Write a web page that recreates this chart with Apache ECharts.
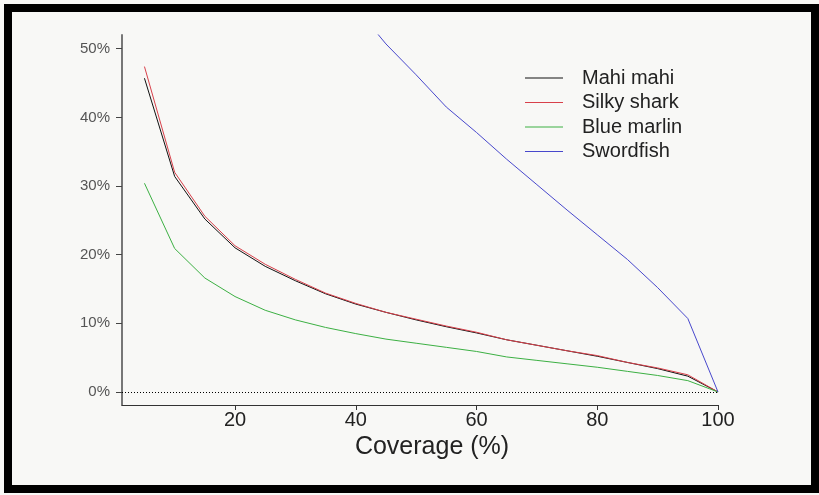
<!DOCTYPE html>
<html>
<head>
<meta charset="utf-8">
<script src="https://cdn.jsdelivr.net/npm/echarts@6/dist/echarts.min.js"></script>
<style>
html,body{margin:0;padding:0;background:#f8f8f6;}
#c{width:819px;height:495px;}
</style>
</head>
<body>
<div id="c"></div>
<script>
var coverage = [5,10,15,20,25,30,35,40,45,50,55,60,65,70,75,80,85,90,95,100];
var mahiMahi = [45.7,31.4,25.2,21.0,18.3,16.2,14.3,12.8,11.6,10.5,9.5,8.6,7.6,6.8,6.0,5.2,4.3,3.4,2.3,0];
var silkyShark = [47.4,32.0,25.6,21.3,18.6,16.4,14.4,12.9,11.6,10.6,9.6,8.7,7.6,6.8,6.0,5.3,4.3,3.5,2.5,0];
var blueMarlin = [30.4,20.9,16.6,13.9,11.9,10.5,9.4,8.5,7.7,7.1,6.5,5.9,5.1,4.6,4.1,3.6,3.0,2.4,1.65,0];
var swordCoverage = [40,45,50,55,60,65,70,75,80,85,90,95,100];
var swordfish = [56.0,50.7,46.2,41.5,37.8,33.9,30.2,26.5,22.9,19.3,15.2,10.7,0];
var xTicks = [20,40,60,80,100];
var yTicks = [0,10,20,30,40,50];
var seriesNames = ['Mahi mahi','Silky shark','Blue marlin','Swordfish'];
var seriesColors = ['#111111','#d8404a','#3cb043','#4848cc'];

function pairs(xs, ys){ return xs.map(function(x,i){ return [x, ys[i]]; }); }
var allData = [pairs(coverage, mahiMahi), pairs(coverage, silkyShark), pairs(coverage, blueMarlin), pairs(swordCoverage, swordfish)];

var chart = echarts.init(document.getElementById('c'), null, {renderer:'canvas'});
var FONT = '"Liberation Sans", Arial, sans-serif';

var series = seriesNames.map(function(n, i){
  var s = {
    name: n, type: 'line', data: allData[i], symbol: 'none', clip: true,
    lineStyle: {width: 1, color: seriesColors[i]}, itemStyle: {color: seriesColors[i]},
    silent: true, animation: false, z: 3
  };
  if (i === 0) {
    s.markLine = {
      silent: true, symbol: ['none','none'], label: {show: false},
      lineStyle: {type: [1,2], color: '#000', width: 1},
      data: [{yAxis: 0}], animation: false
    };
  }
  return s;
});

chart.setOption({
  backgroundColor: '#f8f8f6',
  animation: false,
  textStyle: {fontFamily: FONT},
  grid: {left: 122, right: 101, top: 35, bottom: 90, containLabel: false},
  legend: {
    orient: 'vertical', left: 520, top: 63,
    itemWidth: 38, itemHeight: 1, itemGap: 4.5,
    icon: 'rect',
    data: seriesNames,
    textStyle: {fontSize: 20, color: '#222', fontFamily: FONT, lineHeight: 20, padding: [0,0,0,14]},
    selectedMode: false
  },
  xAxis: {
    type: 'value', min: 1.28, max: 100,
    name: 'Coverage (%)', nameLocation: 'middle', nameGap: 29,
    nameTextStyle: {fontSize: 25, color: '#222', fontFamily: FONT, padding: [0,0,0,24]},
    splitLine: {show: false},
    axisLine: {show: true, onZero: false, lineStyle: {color: '#333', width: 1}},
    axisTick: {show: true, length: 5, inside: false, customValues: xTicks, lineStyle: {color: '#333'}},
    axisLabel: {customValues: xTicks, fontSize: 20, color: '#222', margin: 5, fontFamily: FONT}
  },
  yAxis: {
    type: 'value', min: -1.9, max: 52,
    splitLine: {show: false},
    axisLine: {show: true, onZero: false, lineStyle: {color: '#777', width: 2}},
    axisTick: {show: true, length: 6, customValues: yTicks, lineStyle: {color: '#444', width: 1}},
    axisLabel: {customValues: yTicks, fontSize: 15, color: '#555', margin: 12, fontFamily: FONT,
      formatter: function(v){ return v + '%'; }}
  },
  graphic: [{
    type: 'rect', silent: true, z: 100,
    shape: {x: 8, y: 8, width: 807, height: 481},
    style: {fill: 'none', stroke: '#000', lineWidth: 8}
  }],
  series: series
});
</script>
</body>
</html>
